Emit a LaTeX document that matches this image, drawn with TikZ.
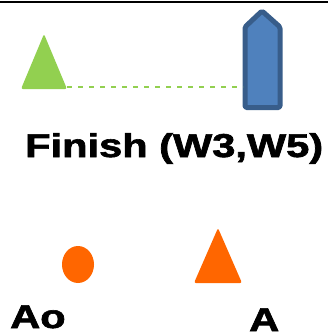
\documentclass[tikz,border=0pt]{standalone}
\usepackage{fontspec}
\setmainfont{Liberation Sans}
\newfontfamily\heavyfont[FakeBold=1.8]{Liberation Sans}
\usepackage{graphicx}
\definecolor{mygreen}{HTML}{92D050}
\definecolor{myblue}{HTML}{4F81BD}
\definecolor{myblueline}{HTML}{385D8A}
\definecolor{myorange}{HTML}{FF6600}
\newcommand{\wide}[1]{\scalebox{1.26}[1]{\heavyfont\bfseries #1}}

\begin{document}
\begin{tikzpicture}[x=1pt, y=-1pt,
  label/.style = {anchor=base west, inner sep=0pt, font=\fontsize{33}{33}\selectfont}]
  \useasboundingbox (0,0) rectangle (328,335);
  % top rule
  \draw[line width=2.5pt] (0,2) -- (328,2);
  % green marker and blue boat
  \fill[mygreen, rounded corners=2pt] (21,89) -- (44,34) -- (67,89) -- cycle;
  \draw[myblueline, fill=myblue, line width=5pt, rounded corners=1.5pt, line join=round]
    (245,27) -- (262,11) -- (280,27) -- (280,107.5) -- (245,107.5) -- cycle;
  \coordinate (mark) at (67,87);
  \coordinate (boat) at (243,87);
  \draw[mygreen, line width=1.5pt, dash pattern=on 5pt off 6pt] (mark) -- (boat);
  \node[label] (finish) at (25,157) {\wide{Finish (W3,W5)}};
  % orange markers
  \fill[myorange] (78,264.5) ellipse (16 and 18.5);
  \fill[myorange, rounded corners=2pt] (194,283) -- (218,228) -- (242,283) -- cycle;
  \node[label] (ao) at (10,328) {\wide{Ao}};
  \node[label] (a) at (249,331) {\wide{A}};
\end{tikzpicture}
\end{document}
